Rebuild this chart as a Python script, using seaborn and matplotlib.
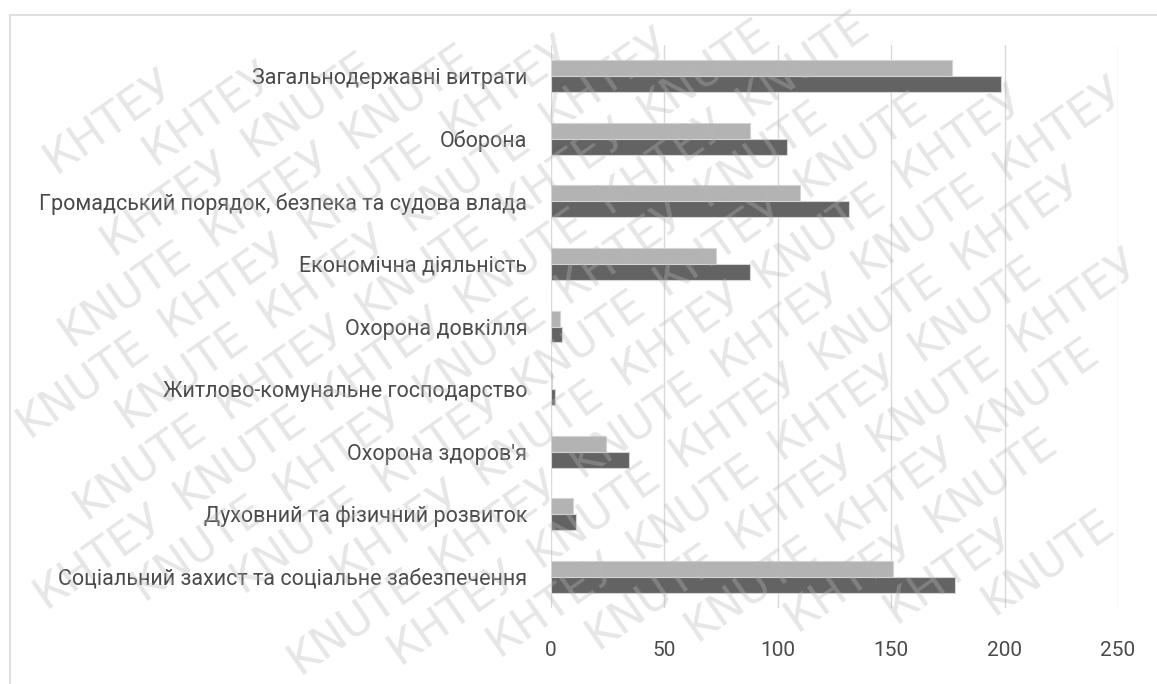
import math
import matplotlib
matplotlib.use("Agg")
import matplotlib.pyplot as plt
import seaborn as sns
import pandas as pd
from matplotlib.patches import Rectangle

categories = [
    "Загальнодержавні витрати",
    "Оборона",
    "Громадський порядок, безпека та судова влада",
    "Економічна діяльність",
    "Охорона довкілля",
    "Житлово-комунальне господарство",
    "Охорона здоров'я",
    "Духовний та фізичний розвиток",
    "Соціальний захист та соціальне забезпечення",
]
series_names = ["Період 1", "Період 2"]
values_light = [177.0, 87.8, 109.7, 72.9, 4.0, 0.3, 24.4, 9.7, 151.0]
values_dark = [198.5, 104.2, 131.2, 87.8, 4.7, 1.9, 34.5, 10.9, 178.2]
x_ticks = [0, 50, 100, 150, 200, 250]
watermark_words = ["KNUTE", "КНТЕУ"]

df = pd.DataFrame({
    "category": categories * 2,
    "series": [series_names[0]] * len(categories) + [series_names[1]] * len(categories),
    "value": values_light + values_dark,
})

sns.set_theme(style="white")
plt.rcParams["font.family"] = ["Roboto", "DejaVu Sans"]

text_color = "#4a4a4a"
grid_color = "#d9d9d9"
W, H = 1157, 684

fig = plt.figure(figsize=(W / 100, H / 100), dpi=100)
fig.patch.set_facecolor("white")

# chart frame
fig.patches.append(Rectangle((10 / W, -0.1), 1.2, 1 - 15 / H + 0.1,
                             transform=fig.transFigure, fill=False,
                             edgecolor=grid_color, linewidth=1.2, zorder=0))

ax = fig.add_axes([551 / W, 1 - 608 / H, (1118 - 551) / W, (608 - 45) / H])
sns.barplot(data=df, y="category", x="value", hue="series", order=categories,
            hue_order=series_names, palette=["#b3b3b3", "#636363"],
            orient="h", width=0.51, dodge=True, legend=False,
            edgecolor="#d4d4d4", linewidth=0.8, saturation=1, ax=ax, zorder=3)

ax.set_xlim(0, 250)
ax.set_xticks(x_ticks)
ax.set_xticklabels([str(t) for t in x_ticks])
ax.set_xlabel("")
ax.set_ylabel("")
ax.grid(axis="x", color=grid_color, linewidth=1.0, zorder=0)
ax.grid(axis="y", visible=False)
ax.set_axisbelow(True)
for s in ax.spines.values():
    s.set_visible(False)
ax.tick_params(axis="both", length=0, colors=text_color, labelsize=15.5)
ax.tick_params(axis="x", pad=24, labelsize=15)
ax.tick_params(axis="y", pad=17)
for lab in ax.get_yticklabels() + ax.get_xticklabels():
    lab.set_color(text_color)

# watermark overlay: individual words along diagonal lines
ang = 35.0
a = math.radians(ang)
d = (math.cos(a), math.sin(a))
n = (-math.sin(a), math.cos(a))
step = 172.0
line_gap = 50.0
cx, cy = W / 2, H / 2
wm_texts = []
for j in range(-18, 19):
    shift = (j % 2) * step / 2.0
    for i in range(-8, 9):
        t = i * step + shift
        px = cx + n[0] * j * line_gap + d[0] * t
        py = cy + n[1] * j * line_gap + d[1] * t
        if -150 < px < W + 150 and -150 < py < H + 150:
            word = watermark_words[(i + j) % 2]
            txt = fig.text(px / W, py / H, word, rotation=ang, fontsize=32,
                           color="#b8b8b8", alpha=0.35, ha="center", va="center",
                           rotation_mode="anchor", family=["DejaVu Sans"],
                           zorder=10)
            wm_texts.append(txt)

fig.canvas.draw()
renderer = fig.canvas.get_renderer()
for txt in wm_texts:
    bb = txt.get_window_extent(renderer)
    if bb.x0 < 0 or bb.y0 < 0 or bb.x1 > W or bb.y1 > H:
        txt.remove()

fig.savefig("out.png", dpi=100, facecolor="white")
